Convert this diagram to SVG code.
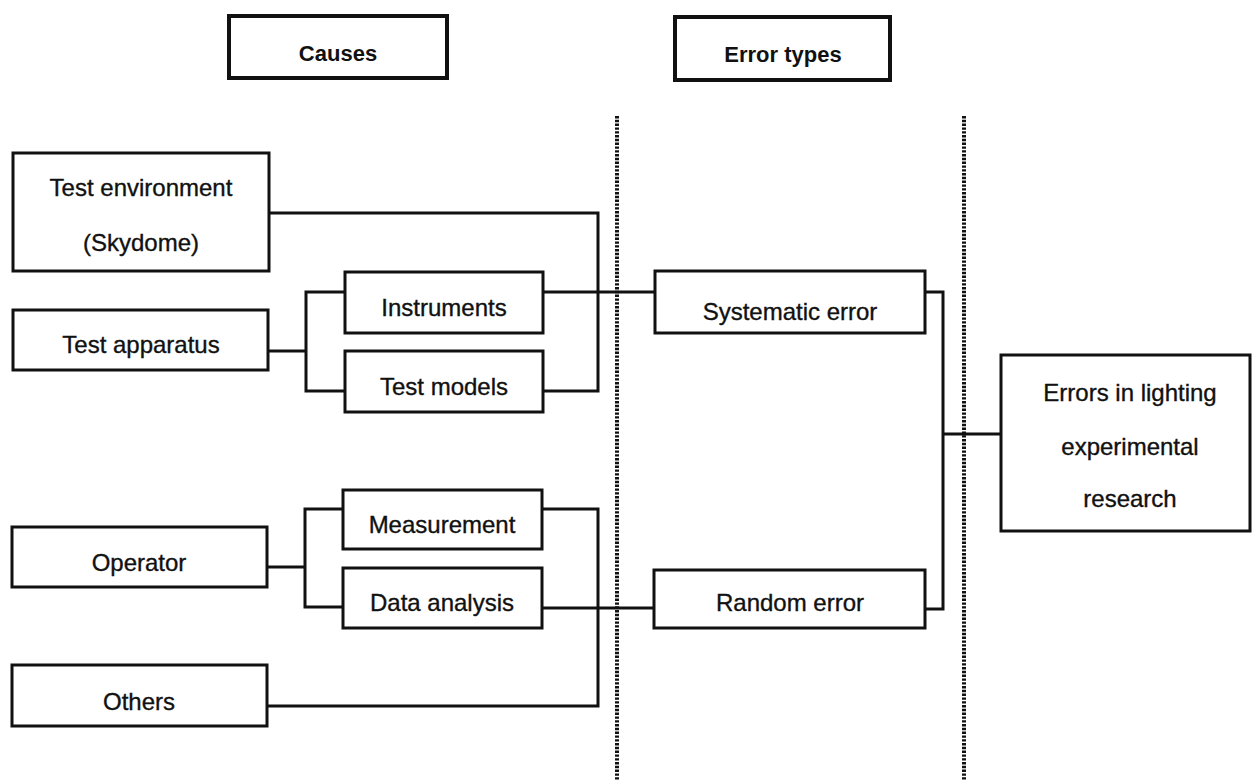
<svg xmlns="http://www.w3.org/2000/svg" width="1253" height="781" viewBox="0 0 1253 781">
<style>
  .box { fill: #ffffff; stroke: #111111; stroke-width: 3; }
  .hdr { fill: #ffffff; stroke: #111111; stroke-width: 4; }
  .t { font-family: "Liberation Sans", Arial, sans-serif; font-size: 24px; fill: #111111; stroke: #111111; stroke-width: 0.35; text-anchor: middle; }
  .th { font-family: "Liberation Sans", Arial, sans-serif; font-size: 22px; font-weight: bold; fill: #111111; text-anchor: middle; }
  .conn { fill: none; stroke: #111111; stroke-width: 3; }
  .div { fill: none; stroke: #111111; stroke-width: 4; stroke-dasharray: 2.4 1.4; }
</style>
<rect x="0" y="0" width="1253" height="781" fill="#ffffff"/>
<g id="dividers">
  <line class="div" x1="617" y1="116" x2="617" y2="781"/>
  <line class="div" x1="964" y1="116" x2="964" y2="781"/>
</g>
<g id="connectors">
  <path class="conn" d="M269,213 H598 V391 H543"/>
  <path class="conn" d="M268,351 H306"/>
  <path class="conn" d="M345,292 H306 V391 H345"/>
  <path class="conn" d="M543,292 H655"/>
  <path class="conn" d="M925,292 H943 V609 H925"/>
  <path class="conn" d="M943,434 H1001"/>
  <path class="conn" d="M267,567 H305"/>
  <path class="conn" d="M343,509 H305 V607 H343"/>
  <path class="conn" d="M542,509 H598 V706 H267"/>
  <path class="conn" d="M542,608 H654"/>
</g>
<g id="causes">
  <rect class="hdr" x="229" y="16" width="218" height="62"/>
  <text class="th" x="338" y="61">Causes</text>
</g>
<g id="error-types">
  <rect class="hdr" x="675" y="17" width="215" height="63"/>
  <text class="th" x="783" y="62">Error types</text>
</g>
<g id="test-environment">
  <rect class="box" x="13" y="153" width="256" height="118"/>
  <text class="t" x="141" y="196">Test environment</text>
  <text class="t" x="141" y="251">(Skydome)</text>
</g>
<g id="test-apparatus">
  <rect class="box" x="13" y="310" width="255" height="60"/>
  <text class="t" x="141" y="353">Test apparatus</text>
</g>
<g id="instruments">
  <rect class="box" x="345" y="272" width="198" height="61"/>
  <text class="t" x="444" y="316">Instruments</text>
</g>
<g id="test-models">
  <rect class="box" x="345" y="351" width="198" height="61"/>
  <text class="t" x="444" y="395">Test models</text>
</g>
<g id="operator">
  <rect class="box" x="12" y="527" width="255" height="60"/>
  <text class="t" x="139" y="571">Operator</text>
</g>
<g id="measurement">
  <rect class="box" x="343" y="490" width="199" height="59"/>
  <text class="t" x="442" y="533">Measurement</text>
</g>
<g id="data-analysis">
  <rect class="box" x="343" y="568" width="199" height="60"/>
  <text class="t" x="442" y="611">Data analysis</text>
</g>
<g id="others">
  <rect class="box" x="12" y="665" width="255" height="61"/>
  <text class="t" x="139" y="710">Others</text>
</g>
<g id="systematic-error">
  <rect class="box" x="655" y="271" width="270" height="62"/>
  <text class="t" x="790" y="320">Systematic error</text>
</g>
<g id="random-error">
  <rect class="box" x="654" y="570" width="271" height="58"/>
  <text class="t" x="790" y="611">Random error</text>
</g>
<g id="errors-research">
  <rect class="box" x="1001" y="355" width="249" height="176"/>
  <text class="t" x="1130" y="401">Errors in lighting</text>
  <text class="t" x="1130" y="455">experimental</text>
  <text class="t" x="1130" y="507">research</text>
</g>
</svg>
